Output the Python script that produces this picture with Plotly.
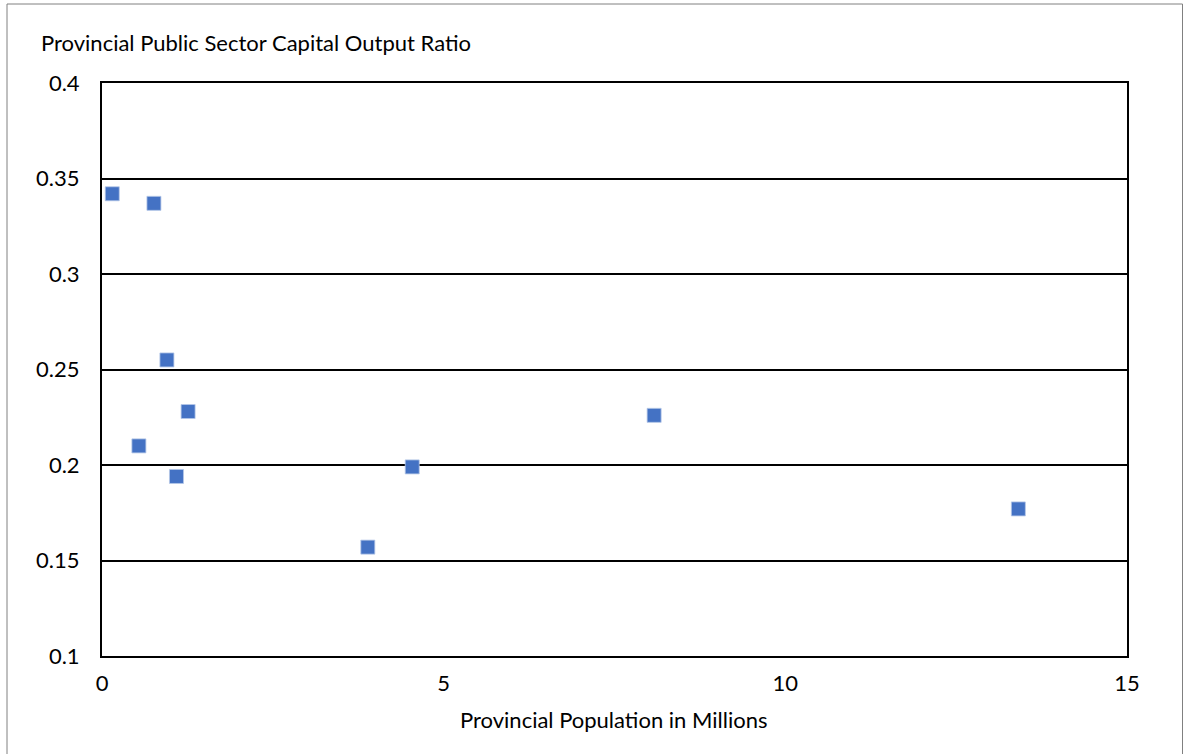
import plotly.graph_objects as go

population = [0.15, 0.76, 0.95, 1.26, 0.54, 1.09, 3.89, 4.54, 8.08, 13.41]
capital_output_ratio = [0.342, 0.337, 0.255, 0.228, 0.210, 0.194, 0.157, 0.199, 0.226, 0.177]

x_ticks = [0, 5, 10, 15]
y_ticks = [0.1, 0.15, 0.2, 0.25, 0.3, 0.35, 0.4]
y_tick_text = ["0.1", "0.15", "0.2", "0.25", "0.3", "0.35", "0.4"]

y_title = "Provincial Public Sector Capital Output Ratio"
x_title = "Provincial Population in Millions"

FONT = "Lato, Carlito, Calibri, sans-serif"
FS = 22

W, H = 1185, 754
L, R, T, B = 102, 58, 83, 98
pw, ph = W - L - R, H - T - B

def px_x(p):
    return (p - L) / pw

def px_y(p):
    return (H - B - p) / ph

fig = go.Figure()
fig.add_trace(go.Scatter(
    x=population, y=capital_output_ratio, mode="markers",
    marker=dict(symbol="square", size=14, color="#4472C4",
                line=dict(width=1, color="rgba(180,199,231,0.8)")),
    showlegend=False, hoverinfo="x+y",
))

fig.update_layout(
    width=W, height=H,
    margin=dict(l=L, r=R, t=T, b=B, autoexpand=False),
    paper_bgcolor="white", plot_bgcolor="white",
    font=dict(family=FONT, size=FS, color="#000000"),
    xaxis=dict(range=[0, 15], tickvals=x_ticks, showgrid=False, zeroline=False,
               showline=True, linecolor="black", linewidth=2, mirror=True,
               ticks="", ticklabelstandoff=7, tickfont=dict(size=FS)),
    yaxis=dict(range=[0.1, 0.4], tickvals=y_ticks, ticktext=y_tick_text,
               showgrid=True, gridcolor="black", gridwidth=1.5, zeroline=False,
               showline=True, linecolor="black", linewidth=2, mirror=True,
               ticks="", ticklabelstandoff=16, tickfont=dict(size=FS)),
    annotations=[
        dict(text=y_title, xref="paper", yref="paper", x=px_x(39), y=px_y(42),
             xanchor="left", yanchor="middle", showarrow=False,
             font=dict(family=FONT, size=FS)),
        dict(text=x_title, xref="paper", yref="paper", x=px_x(613.5), y=px_y(719),
             xanchor="center", yanchor="middle", showarrow=False,
             font=dict(family=FONT, size=FS)),
    ],
    shapes=[
        dict(type="rect", xref="paper", yref="paper",
             x0=px_x(7), x1=px_x(1182.5), y0=px_y(770), y1=px_y(4),
             line=dict(color="#808080", width=1), fillcolor="rgba(0,0,0,0)",
             layer="below"),
    ],
)

fig.write_html("out.html", config={"displayModeBar": False},
               post_script="document.body.style.margin='0';document.body.style.overflow='hidden';")
